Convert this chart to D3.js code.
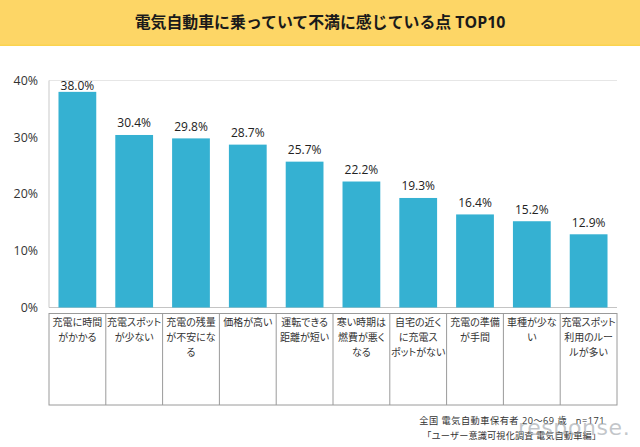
<!DOCTYPE html>
<html><head><meta charset="utf-8">
<script src="https://d3js.org/d3.v7.min.js"></script>
<style>html,body{margin:0;padding:0;background:#fff}svg{display:block}.cat{font-feature-settings:"palt"}</style>
</head><body><svg id="c" width="640" height="447"></svg>
<script>
const chartTitle = "電気自動車に乗っていて不満に感じている点 TOP10";
const categoryLines = [
  ["充電に時間","がかかる"],
  ["充電スポット","が少ない"],
  ["充電の残量","が不安にな","る"],
  ["価格が高い"],
  ["運転できる","距離が短い"],
  ["寒い時期は","燃費が悪く","なる"],
  ["自宅の近く","に充電ス","ポットがない"],
  ["充電の準備","が手間"],
  ["車種が少な","い"],
  ["充電スポット","利用のルー","ルが多い"]
];
const values = [38.0,30.4,29.8,28.7,25.7,22.2,19.3,16.4,15.2,12.9];
const yTicks = [0,10,20,30,40];
const notes = ["全国 電気自動車保有者 20～69 歳\u00a0\u00a0\u00a0n=171","「ユーザー意識可視化調査 電気自動車編」"];
const font = "'Open Sans','Noto Sans CJK JP',sans-serif";

const svg = d3.select("#c").style("font-family", font);
const x = d3.scaleBand().domain(d3.range(values.length)).range([49,617]).paddingInner(0.335).paddingOuter(0.167);
const cell = d3.scaleBand().domain(d3.range(values.length)).range([49,617]);
const y = d3.scaleLinear().domain([0,40]).range([307.5,80.5]);

svg.append("rect").attr("width",640).attr("height",45.5).attr("fill","#fdd666");
svg.append("rect").attr("y",44.5).attr("width",640).attr("height",1.5).attr("fill","#fbd34f");
svg.append("text").attr("x",320).attr("y",27.5).attr("text-anchor","middle")
  .attr("font-size",15.9).attr("font-weight",700).attr("fill","#1a1a1a").text(chartTitle);

// plot frame lines
svg.append("line").attr("x1",49).attr("x2",617).attr("y1",80.5).attr("y2",80.5).attr("stroke","#e6e6e6");
svg.append("line").attr("x1",49).attr("x2",49).attr("y1",80.5).attr("y2",307.5).attr("stroke","#c9c9c9");
svg.append("line").attr("x1",49).attr("x2",617).attr("y1",307.5).attr("y2",307.5).attr("stroke","#c4c4c4");

svg.selectAll(".yt").data(yTicks).join("text").attr("class","yt")
  .attr("x",38).attr("y",d=>y(d)+4.3).attr("text-anchor","end")
  .attr("font-size",12.4).attr("fill","#333").text(d=>d+"%");

svg.selectAll(".bar").data(values).join("rect").attr("class","bar")
  .attr("x",(d,i)=>x(i)).attr("width",x.bandwidth())
  .attr("y",d=>y(d)).attr("height",d=>y(0)-y(d)).attr("fill","#35b1d2");

svg.selectAll(".val").data(values).join("text").attr("class","val")
  .attr("x",(d,i)=>x(i)+x.bandwidth()/2).attr("y",d=>Math.max(y(d)-7.5,89.5)).attr("text-anchor","middle")
  .attr("font-size",12).attr("fill","#222").text(d=>d.toFixed(1)+"%");

// category table
const tableTop = 313.5, tableBottom = 405;
const g = svg.append("g");
g.append("rect").attr("x",49).attr("y",tableTop).attr("width",568).attr("height",tableBottom-tableTop)
  .attr("fill","none").attr("stroke","#9a9a9a");
g.selectAll("line").data(d3.range(1,values.length)).join("line")
  .attr("x1",d=>cell(d)).attr("x2",d=>cell(d)).attr("y1",tableTop).attr("y2",tableBottom).attr("stroke","#9a9a9a");
categoryLines.forEach((lines,i)=>{
  lines.forEach((t,j)=>{
    g.append("text").attr("class","cat").attr("x",cell(i)+cell.bandwidth()/2).attr("y",tableTop+12.2+j*14.9)
      .attr("text-anchor","middle").attr("font-size",10).attr("fill","#333").text(t);
  });
});

// notes
svg.append("text").attr("x",605).attr("y",424).attr("text-anchor","end").attr("font-size",9.2).attr("letter-spacing",0.5).attr("fill","#333").text(notes[0]);
svg.append("text").attr("x",601).attr("y",439).attr("text-anchor","end").attr("font-size",9.2).attr("letter-spacing",0.1).attr("fill","#333").text(notes[1]);

// watermark
svg.append("text").attr("x",518).attr("y",435).attr("font-size",22).attr("letter-spacing",0.6).attr("font-family","'DejaVu Sans',sans-serif")
  .attr("fill","#9aa0a6").attr("fill-opacity",0.6).text("response.");
</script></body></html>
